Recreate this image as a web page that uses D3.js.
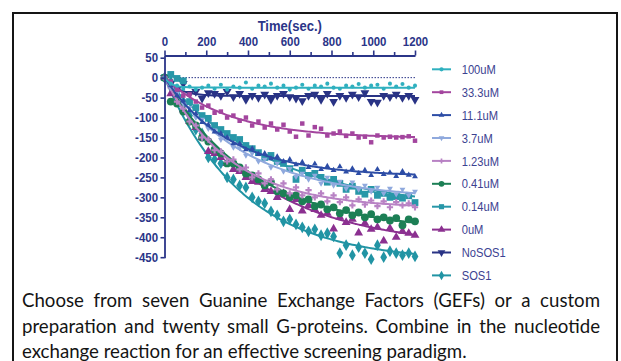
<!DOCTYPE html>
<html><head><meta charset="utf-8">
<script src="https://cdn.jsdelivr.net/npm/d3@7"></script>
<style>body{margin:0;background:#fff}</style>
</head><body><svg id="c" width="621" height="361"></svg>
<script>
// ---------- data ----------
const times = [0,30,60,90,120,150,180,210,240,270,300,330,360,390,420,450,480,510,540,570,600,630,660,690,720,750,780,810,840,870,900,930,960,990,1020,1050,1080,1110,1140,1170,1200];
const seriesNames = ["100uM","33.3uM","11.1uM","3.7uM","1.23uM","0.41uM","0.14uM","0uM","NoSOS1","SOS1"];
const s100 = [0,-15,-20,-28,-22,-30,-25,-20,-28,-18,-30,-22,-25,-12,-28,-20,-22,-15,-25,-20,-30,-25,-18,-28,-20,-22,-15,-25,-28,-20,-22,-16,-25,-20,-18,-28,-15,-22,-16,-25,-20];
const s33 = [0,-10,-30,-45,-42,-60,-75,-70,-88,-85,-100,-95,-108,-100,-120,-110,-125,-115,-130,-118,-135,-148,-115,-145,-124,-128,-145,-140,-135,-146,-140,-150,-148,-162,-145,-150,-148,-150,-149,-147,-158];
const s11 = [0,-20,-45,-58,-82,-90,-112,-118,-136,-140,-150,-165,-166,-180,-178,-192,-190,-203,-198,-210,-205,-218,-212,-225,-216,-230,-222,-232,-223,-236,-228,-240,-232,-245,-230,-242,-238,-247,-235,-244,-248];
const s37 = [0,-25,-40,-65,-75,-100,-105,-128,-132,-155,-152,-175,-176,-195,-190,-210,-205,-225,-215,-235,-228,-248,-240,-255,-245,-265,-250,-270,-260,-278,-262,-280,-270,-285,-275,-290,-278,-292,-280,-295,-285];
const s123 = [0,-25,-60,-78,-110,-120,-150,-155,-182,-185,-210,-205,-230,-225,-250,-240,-265,-255,-280,-265,-290,-275,-295,-282,-300,-290,-310,-295,-312,-300,-320,-305,-318,-308,-322,-310,-325,-312,-320,-315,-325];
const s041 = [0,-60,-65,-85,-110,-120,-150,-160,-180,-190,-215,-215,-225,-240,-245,-255,-270,-262,-285,-290,-300,-295,-310,-305,-322,-318,-330,-325,-340,-332,-345,-338,-350,-342,-355,-350,-358,-352,-370,-355,-360];
const s014 = [0,8,-2,-8,-60,-75,-95,-102,-120,-130,-140,-150,-155,-170,-178,-188,-200,-195,-210,-215,-228,-255,-232,-245,-240,-250,-262,-255,-265,-280,-272,-285,-292,-280,-295,-290,-300,-298,-302,-296,-313];
const s0 = [0,-40,-45,-80,-110,-125,-150,-185,-190,-200,-215,-230,-235,-250,-260,-262,-280,-285,-300,-290,-330,-305,-334,-320,-330,-345,-340,-379,-350,-363,-355,-389,-365,-380,-375,-409,-378,-400,-385,-390,-395];
const sNo = [0,-15,-30,-15,-40,-35,-52,-38,-40,-45,-35,-48,-40,-55,-45,-50,-42,-55,-45,-40,-48,-52,-58,-45,-42,-55,-40,-60,-45,-50,-42,-48,-38,-60,-62,-45,-48,-42,-50,-45,-55];
const sSOS = [0,-10,-35,-70,-95,-130,-140,-200,-205,-215,-250,-255,-270,-275,-300,-310,-315,-335,-345,-360,-355,-368,-375,-385,-380,-395,-390,-398,-440,-420,-445,-425,-440,-455,-420,-450,-435,-440,-445,-440,-448];
const seriesValues = [s100,s33,s11,s37,s123,s041,s014,s0,sNo,sSOS];
// one-phase exponential fit parameters (plateau, rate constant per sec)
const fitPlateau = [-25,-152,-248,-305,-328,-386,-333,-426,-46,-461];
const fitRate = [0.03,0.0032,0.0032,0.00249,0.00316,0.00236,0.00188,0.00215,0.015,0.00265];
const xTicks = [0,200,400,600,800,1000,1200];
const xMinor = [100,300,500,700,900,1100];
const yTicks = [50,0,-50,-100,-150,-200,-250,-300,-350,-400,-450];
const caption = ["Choose from seven Guanine Exchange Factors (GEFs) or a custom",
  "preparation and twenty small G-proteins. Combine in the nucleotide",
  "exchange reaction for an effective screening paradigm."];

// ---------- styles ----------
const colors = ["#2fb0bf","#a3459e","#2d4da6","#8fa9dd","#b882c4","#1c7f55","#2897a8","#8b3090","#293385","#2194a4"];
const shapes = ["circle","square","triangle","tridown","cross","circle","square","triangle","tridown","diamond"];
const sizes = [13,20,15,15,22,48,46,34,34,40];
const axisColor = "#2b3588";
const svg = d3.select("#c");

svg.append("rect").attr("x",13).attr("y",13).attr("width",604).attr("height",360)
  .attr("fill","none").attr("stroke","#151515").attr("stroke-width",2);

const x = d3.scaleLinear().domain([0,1200]).range([164.5,415]);
const y = d3.scaleLinear().domain([-450,50]).range([257.2,57.7]);
const axisY0 = 55.5;
const SX = 0.88;
const fmt = d => String(d);

function sym(shape,size){
  const map = {circle:d3.symbolCircle,square:d3.symbolSquare,triangle:d3.symbolTriangle,tridown:d3.symbolTriangle,cross:d3.symbolCross,diamond:d3.symbolDiamond};
  return d3.symbol().type(map[shape]).size(size)();
}
function rot(shape){ return shape==="tridown" ? " rotate(180)" : ""; }

// zero dotted line
svg.append("line").attr("x1",x(0)).attr("x2",x(1200)).attr("y1",y(0)).attr("y2",y(0))
  .attr("stroke",axisColor).attr("stroke-width",1).attr("stroke-dasharray","1.5,1.5");

// series
const fitGrid = d3.range(0,1201,10);
const line = d3.line().x(d=>x(d[0])).y(d=>y(d[1])).curve(d3.curveBasis);
for (let i = seriesNames.length-1; i >= 0; i--){
  const g = svg.append("g");
  const P = fitPlateau[i], k = fitRate[i];
  g.append("path").attr("d", line(fitGrid.map(t=>[t, P*(1-Math.exp(-k*t))])))
    .attr("fill","none").attr("stroke",colors[i]).attr("stroke-width",2);
  const vals = seriesValues[i];
  g.selectAll("path.pt").data(times.map((t,j)=>[t,vals[j]])).join("path").attr("class","pt")
    .attr("d", sym(shapes[i],sizes[i]))
    .attr("transform", d=>`translate(${x(d[0])},${y(d[1])})${rot(shapes[i])}`)
    .attr("fill",colors[i]);
}

// axes
const gx = svg.append("g").attr("transform",`translate(0,${axisY0})`)
  .call(d3.axisTop(x).tickValues(xTicks).tickFormat(fmt).tickSize(5).tickPadding(4.5).tickSizeOuter(0));
xMinor.forEach(v=>{
  gx.append("line").attr("x1",x(v)+0.5).attr("x2",x(v)+0.5).attr("y1",0).attr("y2",-3.5)
    .attr("stroke",axisColor).attr("stroke-width",1.6);
});
gx.select(".domain").attr("stroke",axisColor).attr("stroke-width",1.8);
gx.selectAll(".tick line").attr("stroke",axisColor).attr("stroke-width",1.6);
gx.selectAll(".tick text").attr("fill",axisColor).attr("font-family","Liberation Sans, Arial, sans-serif")
  .attr("font-weight","bold").attr("font-size",13).attr("transform",`scale(${SX},1)`);

const gy = svg.append("g").attr("transform",`translate(${x(0)},0)`)
  .call(d3.axisLeft(y).tickValues(yTicks).tickFormat(fmt).tickSize(4).tickPadding(2.5).tickSizeOuter(0));
gy.select(".domain").remove();
gy.append("line").attr("x1",0.5).attr("x2",0.5).attr("y1",axisY0).attr("y2",y(-450)+1)
  .attr("stroke",axisColor).attr("stroke-width",1.8);
gy.selectAll(".tick line").attr("stroke",axisColor).attr("stroke-width",1.6);
gy.selectAll(".tick text").attr("fill",axisColor).attr("font-family","Liberation Sans, Arial, sans-serif")
  .attr("font-weight","bold").attr("font-size",13).attr("x",-6.5/SX).attr("transform",`scale(${SX},1)`);

svg.append("text").attr("x",0).attr("y",31.5).attr("text-anchor","middle")
  .attr("transform",`translate(${(x(0)+x(1200))/2},0) scale(0.9,1)`)
  .attr("font-family","Liberation Sans, Arial, sans-serif").attr("font-weight","bold").attr("font-size",14.5)
  .attr("fill",axisColor).text("Time(sec.)");

// legend
seriesNames.forEach((name,i)=>{
  const ly = 69.3 + i*22.9;
  const g = svg.append("g").attr("transform",`translate(0,${ly})`);
  g.append("line").attr("x1",432).attr("x2",451).attr("y1",0).attr("y2",0)
    .attr("stroke",colors[i]).attr("stroke-width",2);
  g.append("path").attr("d",sym(shapes[i], i>=5?26:14)).attr("transform",`translate(441.5,0)${rot(shapes[i])}`)
    .attr("fill",colors[i]);
  g.append("text").attr("x",0).attr("y",0).attr("dy","0.36em")
    .attr("transform",`translate(461.7,0) scale(0.86,1)`)
    .attr("font-family","Liberation Sans, Arial, sans-serif").attr("font-size",13)
    .attr("fill","#3c4291").text(name);
});

// caption paragraph (justified)
const baseSize = 17, left = 22, right = 600;
const baselines = [307, 333, 358];
const texts = caption.map((s,i)=> svg.append("text").attr("x",left).attr("y",baselines[i])
  .attr("font-family","Lato, 'Open Sans', sans-serif").attr("font-size",baseSize).attr("fill","#141414").text(s));
const w3 = texts[2].node().getComputedTextLength();
const fs = baseSize * (445 / w3);
texts.forEach(t=>t.attr("font-size",fs));
[0,1].forEach(i=>{
  const w = texts[i].node().getComputedTextLength();
  const n = caption[i].split(" ").length - 1;
  texts[i].attr("word-spacing", (right-left-w)/n);
});
</script></body></html>
